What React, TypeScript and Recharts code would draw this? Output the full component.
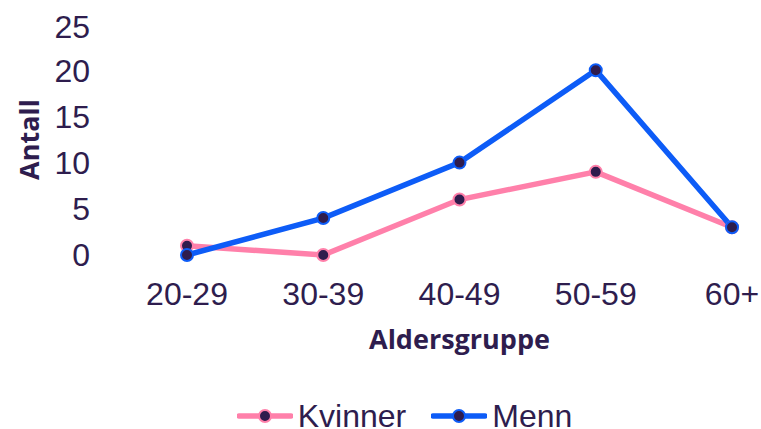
import React from 'react';
import { LineChart, Line, XAxis, YAxis, Legend, Label } from 'recharts';

const categories = ['20-29', '30-39', '40-49', '50-59', '60+'];
const kvinner = [1, 0, 6, 9, 3];
const menn = [0, 4, 10, 20, 3];
const yTicks = [0, 5, 10, 15, 20, 25];

const data = categories.map((c, i) => ({ group: c, Kvinner: kvinner[i], Menn: menn[i] }));

const TEXT = '#2e1d4e';
const DOT = '#2f1c4d';
const PINK = '#ff80aa';
const BLUE = '#0d5cf7';
const PAD_L = 79;
const PAD_R = 19;

const LegendContent = (props: any) => {
  const items = props.payload || [];
  return (
    <div style={{ display: 'flex', justifyContent: 'center', alignItems: 'center', paddingLeft: 40, height: 36 }}>
      {items.map((it: any, i: number) => (
        <div key={i} style={{ display: 'flex', alignItems: 'center', marginLeft: i === 0 ? 0 : 25, height: 36 }}>
          <svg width={56} height={20} style={{ display: 'block' }}>
            <line x1={2} y1={10} x2={54} y2={10} stroke={it.color} strokeWidth={5.5} strokeLinecap="round" />
            <circle cx={28} cy={10} r={6} fill={DOT} stroke={it.color} strokeWidth={2} />
          </svg>
          <span style={{ marginLeft: 5, fontFamily: '"Liberation Sans", Arial, sans-serif', fontSize: 32, color: TEXT, lineHeight: '36px', whiteSpace: 'nowrap' }}>
            {it.value}
          </span>
        </div>
      ))}
    </div>
  );
};

export default function App() {
  return (
    <div style={{ width: 753, height: 421, padding: '8px 0 0 8px', overflow: 'hidden' }}>
      <style>{`body{margin:0;overflow:hidden;}`}</style>
      <LineChart width={753} height={421} data={data} margin={{ top: 16, right: 10, bottom: 74, left: 0 }}>
        <XAxis
          dataKey="group"
          axisLine={false}
          tickLine={false}
          tickSize={0}
          tickMargin={27}
          height={100}
          padding={{ left: PAD_L, right: PAD_R }}
          tick={{ fill: TEXT, fontSize: 32, fontFamily: '"Liberation Sans", Arial, sans-serif' }}
          interval={0}
        >
          <Label
            content={(p: any) => {
              const vb = p.viewBox || {};
              const cx = vb.x + PAD_L + (vb.width - PAD_L - PAD_R) / 2;
              return (
                <text x={cx} y={vb.y + 94} textAnchor="middle" fill={TEXT} fontSize={27} fontWeight={700} fontFamily='"Open Sans", sans-serif'>
                  Aldersgruppe
                </text>
              );
            }}
          />
        </XAxis>
        <YAxis
          domain={[0, 25]}
          ticks={yTicks}
          axisLine={false}
          tickLine={false}
          tickSize={0}
          tickMargin={18}
          width={100}
          tick={{ fill: TEXT, fontSize: 32, fontFamily: '"Liberation Sans", Arial, sans-serif' }}
        >
          <Label
            content={(p: any) => {
              const vb = p.viewBox || {};
              const cy = vb.y + vb.height / 2;
              return (
                <text x={31} y={cy} transform={`rotate(-90, 31, ${cy})`} textAnchor="middle" fill={TEXT} fontSize={27} fontWeight={700} fontFamily='"Open Sans", sans-serif'>
                  Antall
                </text>
              );
            }}
          />
        </YAxis>
        <Legend verticalAlign="middle" layout="horizontal" wrapperStyle={{ top: 390, left: 0, width: 753, height: 36 }} content={<LegendContent />} />
        <Line
          type="linear"
          dataKey="Kvinner"
          stroke={PINK}
          strokeWidth={5.5}
          dot={{ r: 6, fill: DOT, stroke: PINK, strokeWidth: 2 }}
          isAnimationActive={false}
        />
        <Line
          type="linear"
          dataKey="Menn"
          stroke={BLUE}
          strokeWidth={5.5}
          dot={{ r: 6, fill: DOT, stroke: BLUE, strokeWidth: 2 }}
          isAnimationActive={false}
        />
      </LineChart>
    </div>
  );
}
